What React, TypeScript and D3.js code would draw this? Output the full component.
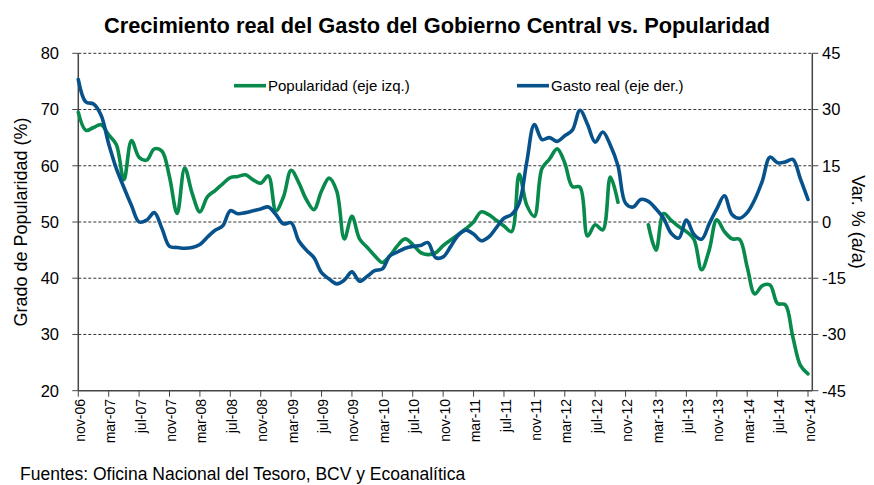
import React from "react";
import * as d3 from "d3";

const monthNames = ["ene","feb","mar","abr","may","jun","jul","ago","sep","oct","nov","dic"];
// Monthly, nov-06 .. nov-14 (97 points)
const popularidad: (number | null)[] = [
  69.5, 66.3, 66.8, 67.3, 65.5, 63.8, 57.5, 64.5, 61.5, 61.0,
  63.0, 62.6, 58.0, 51.5, 59.6, 55.0, 51.8, 54.5, 55.6, 56.8,
  57.9, 58.1, 58.4, 57.5, 56.9, 58.2, 52.0, 54.5, 59.2, 57.0,
  54.0, 52.2, 55.5, 57.8, 55.5, 47.0, 51.0, 47.0, 45.5, 44.0,
  42.8, 44.0, 45.8, 47.0, 46.0, 44.6, 44.2, 44.5, 45.8, 46.8,
  47.8, 48.8, 50.0, 51.8, 51.3, 50.3, 49.3, 48.3, 58.5, 53.0,
  51.0, 59.5, 61.2, 63.0, 60.5, 56.3, 56.2, 47.5, 49.5, 48.6,
  58.0, 53.5, null, null, null, 49.5, 45.0, 51.5, 50.3, 49.2,
  48.3, 46.9, 41.5, 45.0, 50.4, 48.3, 47.0, 46.9, 42.0, 37.2,
  38.7, 38.8, 35.5, 35.3, 29.6, 24.5, 23.0,
];
const gastoReal: number[] = [
  38.0, 32.0, 31.5, 28.5, 20.8, 14.3, 9.2, 4.4, 0.0, 0.5,
  2.5, -1.7, -6.5, -6.8, -7.0, -6.8, -6.0, -4.0, -2.2, -1.0,
  3.0, 2.2, 2.5, 3.0, 3.5, 4.0, 2.0, -0.5, -0.2, -5.0,
  -7.5, -9.5, -13.5, -15.2, -16.5, -15.5, -13.3, -15.8, -14.5, -13.0,
  -12.5, -9.0, -8.0, -7.0, -6.5, -6.3, -5.5, -9.5, -9.3, -6.5,
  -3.5, -2.2, -3.2, -5.0, -4.0, -1.5, 1.0, 2.0, 5.0, 16.0,
  26.0, 22.0, 22.5, 21.5, 23.0, 24.5, 29.8, 26.0, 21.3, 24.0,
  20.5, 15.0, 5.0, 4.0, 6.0, 5.5, 3.5, 1.0, -3.0, -4.3,
  0.5, -3.3, -4.6, -0.5, 3.5, 7.0, 2.0, 1.0, 2.5, 6.0,
  11.0, 17.3, 15.8, 16.0, 16.7, 11.5, 6.0,
];
const leftTicks = [20, 30, 40, 50, 60, 70, 80];
const rightTicks = [-45, -30, -15, 0, 15, 30, 45];
const labels = popularidad.map((_, i) => {
  const m = (10 + i) % 12;
  const y = 6 + Math.floor((10 + i) / 12);
  return `${monthNames[m]}-${String(y).padStart(2, "0")}`;
});
const labelEvery = 4;

const FONT = "'Liberation Sans', Arial, sans-serif";
const GREEN = "#078a4c";
const BLUE = "#07528b";

export default function App() {
  const W = 874, H = 485;
  const left = 78.3, right = 812.3, top = 53.3, bottom = 390.7;
  const n = popularidad.length;
  const x = d3.scaleLinear().domain([0, n - 1]).range([left, 808]);
  const yL = d3.scaleLinear().domain([20, 80]).range([bottom, top]);
  const yR = d3.scaleLinear().domain([-45, 45]).range([bottom, top]);

  const lineL = d3.line<number | null>()
    .defined((d) => d !== null)
    .x((_, i) => x(i))
    .y((d) => yL(d as number))
    .curve(d3.curveCatmullRom.alpha(0.5));
  const lineR = d3.line<number>()
    .x((_, i) => x(i))
    .y((d) => yR(d))
    .curve(d3.curveCatmullRom.alpha(0.5));

  const tickIdx = d3.range(0, n, labelEvery);

  return (
    <svg width={W} height={H} style={{ position: "absolute", left: 0, top: 0, background: "#fff" }} fontFamily={FONT}>
      <text x={437} y={33} textAnchor="middle" fontSize={21.8} fontWeight="bold" fill="#000">
        Crecimiento real del Gasto del Gobierno Central vs. Popularidad
      </text>
      {/* gridlines */}
      {leftTicks.filter((t) => t > 20).map((t) => (
        <line key={t} x1={left} x2={right} y1={yL(t)} y2={yL(t)} stroke="#333" strokeWidth={1} strokeDasharray="3,2" />
      ))}
      {/* axes */}
      <line x1={left} x2={left} y1={top} y2={bottom} stroke="#444" strokeWidth={1.5} />
      <line x1={right} x2={right} y1={top} y2={bottom} stroke="#444" strokeWidth={1.5} />
      <line x1={left} x2={right} y1={bottom} y2={bottom} stroke="#444" strokeWidth={1.5} />
      {leftTicks.map((t) => (
        <g key={t}>
          <line x1={left - 6} x2={left} y1={yL(t)} y2={yL(t)} stroke="#444" />
          <text x={59} y={yL(t)} dy="0.36em" textAnchor="end" fontSize={16.5} fill="#000">{t}</text>
        </g>
      ))}
      {rightTicks.map((t) => (
        <g key={t}>
          <line x1={right} x2={right + 6} y1={yR(t)} y2={yR(t)} stroke="#444" />
          <text x={822} y={yR(t)} dy="0.36em" textAnchor="start" fontSize={16.5} fill="#000">{t}</text>
        </g>
      ))}
      {tickIdx.map((i) => (
        <g key={i}>
          <line x1={x(i)} x2={x(i)} y1={bottom} y2={bottom + 6} stroke="#444" />
          <text transform={`translate(${x(i) + 1.5},${399}) rotate(-90)`} dy="0.36em" textAnchor="end" fontSize={14} fill="#000">
            {labels[i]}
          </text>
        </g>
      ))}
      <text transform={`translate(27,222) rotate(-90)`} textAnchor="middle" fontSize={18} fill="#000">Grado de Popularidad (%)</text>
      <text transform={`translate(852,222) rotate(90)`} textAnchor="middle" fontSize={18} fill="#000">Var. % (a/a)</text>
      {/* series */}
      <path d={lineL(popularidad) || ""} fill="none" stroke={GREEN} strokeWidth={3.6} strokeLinejoin="round" strokeLinecap="round" />
      <path d={lineR(gastoReal) || ""} fill="none" stroke={BLUE} strokeWidth={3.6} strokeLinejoin="round" strokeLinecap="round" />
      {/* legend */}
      <line x1={234} x2={266} y1={85.7} y2={85.7} stroke={GREEN} strokeWidth={3.6} />
      <text x={268} y={85.7} dy="0.36em" fontSize={15} fill="#000">Popularidad (eje izq.)</text>
      <line x1={517} x2={549} y1={85.7} y2={85.7} stroke={BLUE} strokeWidth={3.6} />
      <text x={551} y={85.7} dy="0.36em" fontSize={15} fill="#000">Gasto real (eje der.)</text>
      <text x={20} y={480} fontSize={17.5} fill="#000">Fuentes: Oficina Nacional del Tesoro, BCV y Ecoanalítica</text>
    </svg>
  );
}
